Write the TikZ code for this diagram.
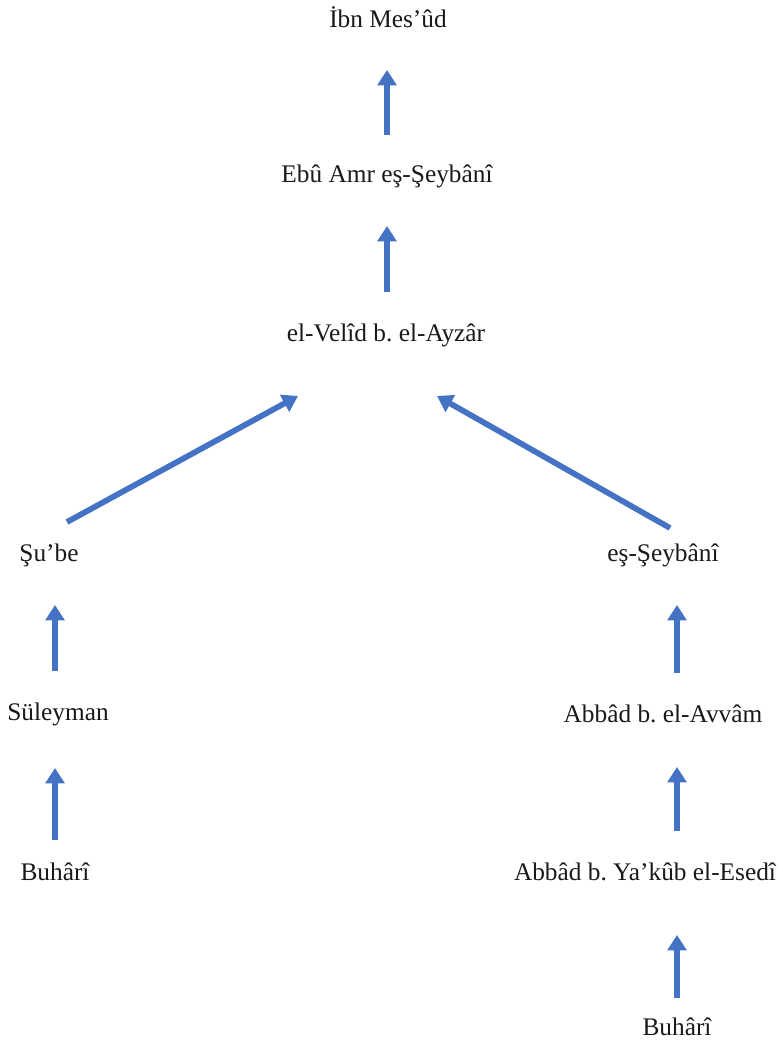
\documentclass[tikz,border=0pt]{standalone}
\usepackage{fontspec}
\setmainfont{Liberation Serif}
\usetikzlibrary{arrows.meta}
\definecolor{arrblue}{HTML}{4472C4}
\frenchspacing
\tikzset{
  person/.style={inner sep=0pt, font=\fontsize{19}{22}\selectfont, text=black!90},
  link/.style={draw=arrblue, line width=4.3pt, -{Triangle[length=11.5pt,width=14pt]}}
}
\begin{document}
\begin{tikzpicture}[x=0.75pt,y=-0.75pt]
\useasboundingbox (0,0) rectangle (782,1046);
\node[person] (ibn) at (388,17) {İbn Mes’ûd};
\node[person] (ebu) at (387,176) {Ebû Amr eş-Şeybânî};
\node[person] (velid) at (386,335) {el-Velîd b. el-Ayzâr};
\node[person] (sube) at (49,555) {Şu’be};
\node[person] (seyb) at (663,555) {eş-Şeybânî};
\node[person] (sul) at (58,714) {Süleyman};
\node[person] (abbad1) at (663,714) {Abbâd b. el-Avvâm};
\node[person] (buh1) at (55,872) {Buhârî};
\node[person] (abbad2) at (645,872) {Abbâd b. Ya’kûb el-Esedî};
\node[person] (buh2) at (677,1027) {Buhârî};
% arrow end points
\coordinate (a1s) at (387,135); \coordinate (a1e) at (387,70);
\coordinate (a2s) at (387,292); \coordinate (a2e) at (387,226);
\coordinate (a3s) at (67,522); \coordinate (a3e) at (298,396);
\coordinate (a4s) at (670,528); \coordinate (a4e) at (437,396);
\coordinate (a5s) at (55,671); \coordinate (a5e) at (55,605);
\coordinate (a6s) at (677,673); \coordinate (a6e) at (677,605);
\coordinate (a7s) at (55,840); \coordinate (a7e) at (55,768);
\coordinate (a8s) at (677,831); \coordinate (a8e) at (677,767);
\coordinate (a9s) at (677,998); \coordinate (a9e) at (677,935);
\draw[link] (a1s) -- (a1e);
\draw[link] (a2s) -- (a2e);
\draw[link] (a3s) -- (a3e);
\draw[link] (a4s) -- (a4e);
\draw[link] (a5s) -- (a5e);
\draw[link] (a6s) -- (a6e);
\draw[link] (a7s) -- (a7e);
\draw[link] (a8s) -- (a8e);
\draw[link] (a9s) -- (a9e);
\end{tikzpicture}
\end{document}
